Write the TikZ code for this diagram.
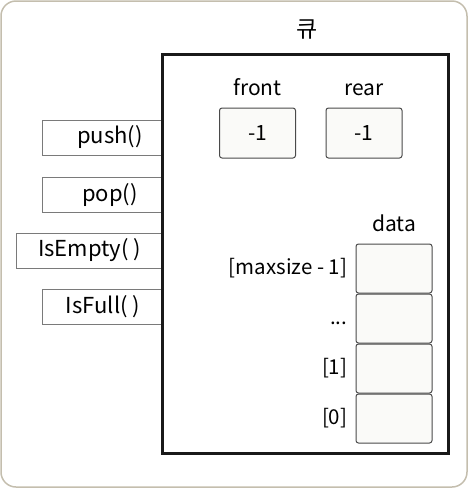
\documentclass[tikz,border=0pt]{standalone}
\usepackage{fontspec}
\setmainfont{Noto Sans CJK KR}
\usepackage{tikz}
\usetikzlibrary{positioning}
\definecolor{frameline}{HTML}{C4BEAE}
\definecolor{btnline}{HTML}{7A7A7A}
\definecolor{cellline}{HTML}{4A4A4A}
\definecolor{cellfill}{HTML}{FAFAF8}
\tikzset{
  btn/.style={draw=btnline, fill=white, line width=1pt, minimum height=35pt,
              inner sep=0pt, font=\fontsize{22}{26}\selectfont},
  valbox/.style={draw=cellline, fill=cellfill, rounded corners=2.5pt, line width=1pt,
                 minimum width=76pt, minimum height=50pt, inner sep=0pt,
                 font=\fontsize{21}{25}\selectfont},
  cell/.style={draw=cellline, fill=cellfill, rounded corners=2.5pt, line width=1pt,
               minimum width=76pt, minimum height=49pt, inner sep=0pt},
  lbl/.style={font=\fontsize{21}{25}\selectfont, inner sep=0pt},
  idx/.style={font=\fontsize{20.5}{24}\selectfont, inner sep=0pt},
}

\begin{document}
\begin{tikzpicture}[x=1pt, y=-1pt]
    \useasboundingbox (0,0) rectangle (468,488);
    \draw[frameline, line width=1.5pt, rounded corners=15pt] (1,1) rectangle (467,487);

    \node[lbl, font=\fontsize{23}{27}\selectfont] (title) at (307,30) {큐};

    \node[btn, minimum width=136pt] (push) at (110,137.5) {push()};
    \node[btn, minimum width=136pt] (pop) at (110,195) {pop()};
    \node[btn, minimum width=147pt] (empty) at (89.5,250.5) {IsEmpty( )};
    \node[btn, minimum width=122pt] (full) at (103,307) {IsFull( )};

    \node[draw=black!90, fill=white, line width=3pt, minimum width=285.5pt, minimum height=399pt,
          inner sep=0pt] (queue) at (305.25,253.5) {};

    \node[valbox] (front) at (257.5,133) {-1};
    \node[valbox] (rear) at (364,133) {-1};
    \node[lbl, above=12pt of front] (frontlbl) {front};
    \node[lbl, above=12pt of rear] (rearlbl) {rear};

    \node[cell] (top) at (394,268.5) {};
    \node[cell, below=0pt of top] (mid) {};
    \node[cell, below=0pt of mid] (one) {};
    \node[cell, below=0pt of one] (zero) {};
    \node[lbl, above=12pt of top] (datalbl) {data};

    \node[idx, left=8pt of top] (topidx) {[maxsize - 1]};
    \node[idx, left=8pt of mid, yshift=-5pt] (mididx) {...};
    \node[idx, left=8pt of one] (oneidx) {[1]};
    \node[idx, left=8pt of zero] (zeroidx) {[0]};
  \end{tikzpicture}
\end{document}
